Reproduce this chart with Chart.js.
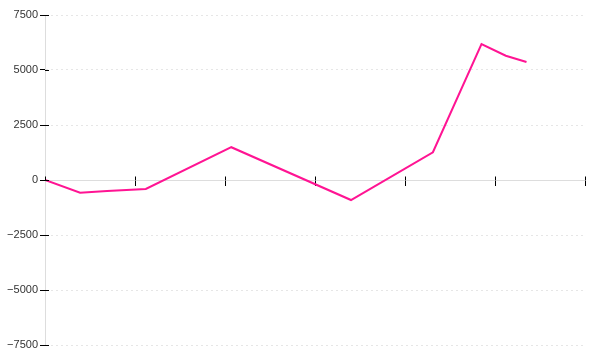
<html><head>
<meta charset="UTF-8">
<script src="https://cdn.jsdelivr.net/npm/chart.js"></script>
<style>
body {
  margin: 0;
  background: #ffffff;
}
</style>
</head>
<body>
<canvas id="chart" width="600" height="360"></canvas>
<script>
// x positions (tick units, 0..6) and values
const xValues = [0, 0.39, 0.69, 1.12, 2.07, 3.40, 4.31, 4.85, 5.12, 5.35];
const yValues = [0, -580, -500, -410, 1490, -910, 1260, 6180, 5650, 5360];
const yTicks = [-7500, -5000, -2500, 0, 2500, 5000, 7500];

const points = xValues.map((x, i) => ({ x: x, y: yValues[i] }));

// extend the black tick marks across the axis line
const tickMarks = {
  id: 'tickMarks',
  afterDraw(chart) {
    const { ctx, scales: { x, y } } = chart;
    const zero = Math.round(y.getPixelForValue(0)) + 0.5;
    ctx.save();
    ctx.strokeStyle = '#000';
    ctx.lineWidth = 1;
    ctx.beginPath();
    x.ticks.forEach(t => {
      const px = Math.round(x.getPixelForValue(t.value)) + 0.5;
      ctx.moveTo(px, zero - 4);
      ctx.lineTo(px, zero);
    });
    y.ticks.forEach(t => {
      const py = Math.round(y.getPixelForValue(t.value)) + 0.5;
      ctx.moveTo(y.right, py);
      ctx.lineTo(y.right + 4, py);
    });
    ctx.stroke();
    ctx.restore();
  }
};

new Chart(document.getElementById('chart'), {
  type: 'line',
  data: {
    datasets: [{
      data: points,
      borderColor: '#ff1493',
      borderWidth: 2,
      pointRadius: 0,
      tension: 0,
      fill: false
    }]
  },
  options: {
    responsive: false,
    animation: false,
    layout: { padding: { top: 15, right: 15, bottom: 15, left: 0 } },
    plugins: {
      legend: { display: false },
      tooltip: { enabled: false }
    },
    scales: {
      x: {
        type: 'linear',
        position: { y: 0 },
        min: 0,
        max: 6,
        ticks: { stepSize: 1, display: false },
        grid: {
          drawOnChartArea: false,
          drawTicks: true,
          tickLength: 5,
          tickColor: '#000'
        },
        border: { color: '#dddddd', width: 1 }
      },
      y: {
        min: -7500,
        max: 7500,
        afterFit: (scale) => { scale.width = 45; },
        afterBuildTicks: (scale) => {
          scale.ticks = yTicks.map(v => ({ value: v }));
        },
        ticks: {
          color: '#333',
          padding: 2,
          font: { family: 'Liberation Sans', size: 11 },
          callback: (v) => String(v).replace('-', '\u2212')
        },
        grid: {
          color: '#e6e6e6',
          drawTicks: true,
          tickLength: 5,
          tickColor: '#000'
        },
        border: { color: '#dddddd', width: 1, dash: [2, 3] }
      }
    }
  },
  plugins: [tickMarks]
});
</script>
</body></html>
